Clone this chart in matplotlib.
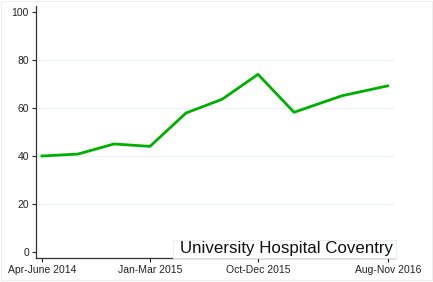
import matplotlib
matplotlib.use('Agg')
import matplotlib.pyplot as plt

# months since mid Apr-June 2014
months = [0, 3, 6, 9, 12, 15, 18, 21, 25, 28.8]
values = [40, 40.8, 45, 44, 57.9, 63.6, 74, 58.2, 65.1, 69.2]
tick_pos = [0, 9, 18, 28.8]
tick_labels = ['Apr-June 2014', 'Jan-Mar 2015', 'Oct-Dec 2015', 'Aug-Nov 2016']
yticks = [0, 20, 40, 60, 80, 100]

plt.rcParams['font.family'] = ['Liberation Sans', 'DejaVu Sans']

fig = plt.figure(figsize=(4.33, 2.82), dpi=100)
ax = fig.add_axes([0.083, 0.085, 0.829, 0.894])

for v in [20, 40, 60, 80]:
    ax.axhline(v, color='#eaf2f3', lw=0.8, zorder=0)

ax.plot(months, values, color='#00b000', lw=2, zorder=3)

ax.set_xlim(-0.5, 29.4)
ax.set_ylim(-2.5, 102.5)
ax.set_xticks(tick_pos)
ax.set_xticklabels(tick_labels)
ax.set_yticks(yticks)
ax.tick_params(labelsize=7.5, length=3, width=0.8, colors='#222222', pad=2)
ax.spines['top'].set_visible(False)
ax.spines['right'].set_visible(False)
for s in ['left', 'bottom']:
    ax.spines[s].set_color('#333333')
    ax.spines[s].set_linewidth(0.9)

# label box at bottom right
ax.add_patch(plt.Rectangle((0.382, 0.0), 0.621, 0.071, transform=ax.transAxes,
                           fc='white', ec='#e6ecec', lw=0.6, zorder=5, clip_on=False))
ax.text(0.996, 0.036, 'University Hospital Coventry', transform=ax.transAxes,
        ha='right', va='center', fontsize=12.2, color='#111111', zorder=6)

fig.patches.append(plt.Rectangle((0.002, 0.008), 0.996, 0.99, transform=fig.transFigure,
                                 fill=False, ec='#eeeeee', lw=0.8))

fig.savefig('out.png', dpi=100)
